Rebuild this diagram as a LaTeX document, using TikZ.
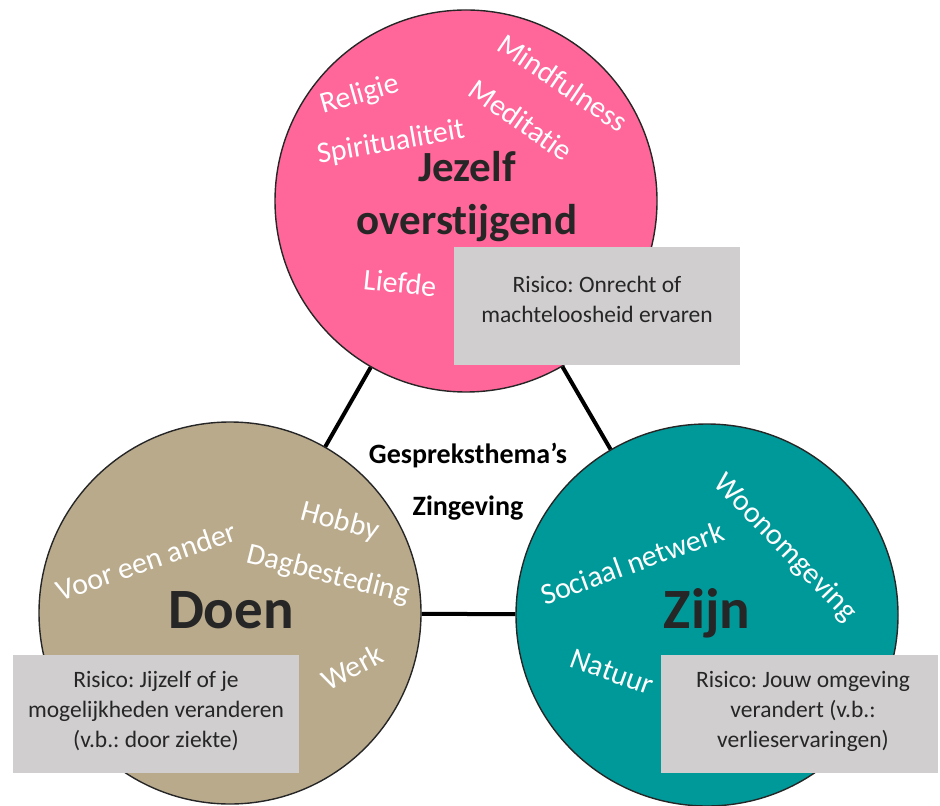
\documentclass[tikz,border=0pt]{standalone}
\usepackage{fontspec}
\setmainfont{Carlito}[Ligatures=NoCommon]
\frenchspacing

\definecolor{roze}{HTML}{FF6699}
\definecolor{zand}{HTML}{B9AA8C}
\definecolor{petrol}{HTML}{009999}
\definecolor{kader}{HTML}{D0CECE}
\definecolor{inkt}{HTML}{262626}

\begin{document}
\begin{tikzpicture}[
  x=0.5pt, y=-0.5pt,
  cirkel/.style={circle, draw=inkt, line width=0.7pt, minimum size=191pt, inner sep=0pt},
  woord/.style={text=white, inner sep=0pt, font=\fontsize{15}{17}\selectfont},
  titel/.style={text=inkt, align=center, font=\bfseries\fontsize{21.5}{26.5}\selectfont},
  risico/.style={fill=kader, inner sep=0pt, minimum height=59pt},
  risico tekst/.style={text=inkt, align=center, font=\fontsize{11.75}{15}\selectfont},
  verbinding/.style={line width=2pt},
]
\useasboundingbox (0,0) rectangle (940,806);

% de drie cirkels
\node[cirkel, fill=roze] (jezelf) at (466,201) {};
\node[cirkel, fill=zand] (doen) at (230,613) {};
\node[cirkel, fill=petrol] (zijn) at (707,615) {};

\draw[verbinding] (jezelf) -- (doen);
\draw[verbinding] (jezelf) -- (zijn);
\draw[verbinding] (doen) -- (zijn);

% titels
\node[titel] (jezelf titel) at (467,197) {Jezelf\\overstijgend};
\node[titel, font=\bfseries\fontsize{28.5}{30}\selectfont] (doen titel) at (231,610) {Doen};
\node[titel, font=\bfseries\fontsize{28.5}{30}\selectfont] (zijn titel) at (707,613) {Zijn};
\node[titel, text=black, font=\bfseries\fontsize{14}{26}\selectfont] (thema) at (468,482) {Gespreksthema’s\\Zingeving};

% woorden
\node[woord, rotate=16] (religie) at (360,95) {Religie};
\node[woord, rotate=10] (spiritualiteit) at (391,143) {Spiritualiteit};
\node[woord, rotate=-35] (meditatie) at (521,120) {Meditatie};
\node[woord, rotate=-34] (mindfulness) at (563,83) {Mindfulness};
\node[woord, rotate=-6] (liefde) at (400,283) {Liefde};

\node[woord, rotate=19] (voor een ander) at (146,561) {Voor een ander};
\node[woord, rotate=-15] (hobby) at (340,522) {Hobby};
\node[woord, rotate=-14] (dagbesteding) at (328,575) {Dagbesteding};
\node[woord, rotate=28] (werk) at (352,667) {Werk};

\node[woord, rotate=-46] (woonomgeving) at (785,548) {Woonomgeving};
\node[woord, rotate=20] (sociaal netwerk) at (632,563) {Sociaal netwerk};
\node[woord, rotate=-20] (natuur) at (612,672) {Natuur};

% risico's
\node[risico, minimum width=143pt] (risico boven) at (597,306) {};
\node[risico tekst] (risico boven tekst) at (597,299) {Risico: Onrecht of\\machteloosheid ervaren};
\node[risico, minimum width=143pt] (risico links) at (156,714) {};
\node[risico tekst] (risico links tekst) at (156,711) {Risico: Jijzelf of je\\mogelijkheden veranderen\\(v.b.: door ziekte)};
\node[risico, minimum width=138.5pt] (risico rechts) at (799.5,714) {};
\node[risico tekst] (risico rechts tekst) at (803,711) {Risico: Jouw omgeving\\verandert (v.b.:\\verlieservaringen)};
\end{tikzpicture}
\end{document}
